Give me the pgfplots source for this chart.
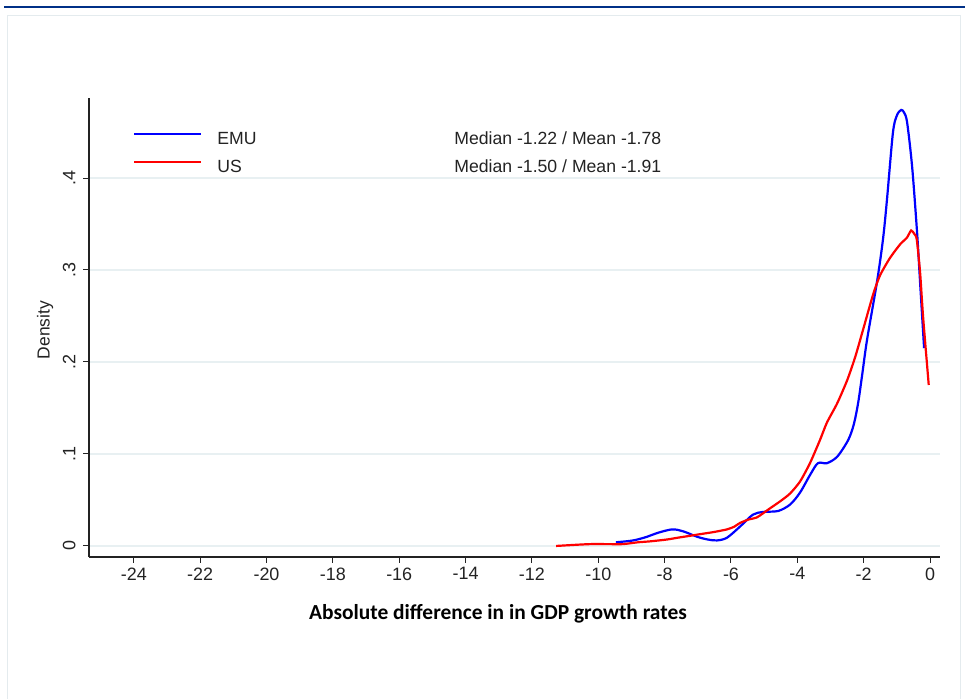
\documentclass[border=0pt]{standalone}
\usepackage{fontspec}
\setmainfont{Liberation Sans}
\newfontfamily\carlito{Carlito}
\usepackage{pgfplots}
\pgfplotsset{compat=1.18}
\definecolor{emu}{RGB}{0,0,255}
\definecolor{us}{RGB}{255,0,0}
\definecolor{gridc}{RGB}{232,240,242}
\definecolor{framec}{RGB}{228,235,238}
\definecolor{topblue}{RGB}{0,48,135}
\definecolor{axc}{RGB}{35,35,35}

\begin{document}
\begin{tikzpicture}[x=1bp,y=1bp]
\path[use as bounding box, fill=white] (0,0) rectangle (965,699);
\draw[topblue, line width=2.5bp] (4,692) -- (965,692);
\draw[framec, line width=1bp] (7,-5) -- (7,683) -- (960,683) -- (960,-5);
\begin{axis}[
  at={(89bp,142bp)}, anchor=south west,
  scale only axis, width=851bp, height=459bp,
  xmin=-25.35, xmax=0.3, ymin=-0.012, ymax=0.487,
  axis x line*=bottom, axis y line*=left,
  axis line style={line width=1.3bp, color=axc},
  xtick={-24,-22,...,0},
  ytick={0,0.1,0.2,0.3,0.4},
  yticklabels={0,.1,.2,.3,.4},
  tick style={line width=1bp, color=axc},
  tick align=outside, major tick length=6bp,
  ymajorgrids, grid style={gridc, line width=1.2bp},
  /pgf/number format/assume math mode=true,
  ticklabel style={font=\fontsize{18}{21}\selectfont, text=axc},
  xticklabel shift=1bp,
  yticklabel style={xshift=-4bp, rotate=90, anchor=south},
  ylabel={Density},
  ylabel style={at={(axis description cs:-0.0517,0.4946)}, anchor=center, font=\fontsize{17.5}{20}\selectfont, text=axc},
  xlabel={Absolute difference in in GDP growth rates},
  xlabel style={at={(axis description cs:0.4806,-0.1242)}, anchor=center, font=\carlito\bfseries\fontsize{21.5}{24}\selectfont},
  legend style={at={(axis description cs:0.0517,0.926)}, anchor=north west, draw=none, fill=none,
    inner sep=0pt, row sep=12bp, column sep=15bp,
    nodes={inner sep=0pt, text height=12bp, text depth=4bp, font=\fontsize{17.7}{20}\selectfont, text=axc}},
  legend cell align=left,
  legend image code/.code={\draw[#1] (0bp,6bp) -- (67bp,6bp);},
]
\addplot[emu, line width=2.2bp, smooth, tension=0.5] coordinates {
(-9.47,0.004) (-8.95,0.006) (-8.53,0.010) (-8.23,0.014) (-7.78,0.018) (-7.45,0.016)
(-7.02,0.010) (-6.70,0.007) (-6.42,0.006) (-6.12,0.009) (-5.73,0.021) (-5.34,0.034)
(-5.03,0.037) (-4.58,0.038) (-4.22,0.045) (-3.92,0.058) (-3.62,0.077) (-3.38,0.090)
(-3.11,0.090) (-2.80,0.097) (-2.47,0.115) (-2.30,0.132) (-2.17,0.155) (-2.05,0.185) (-1.90,0.224)
(-1.60,0.287) (-1.42,0.333) (-1.30,0.376) (-1.12,0.449) (-1.00,0.468) (-0.87,0.474)
(-0.78,0.471) (-0.69,0.460) (-0.54,0.412) (-0.39,0.340) (-0.30,0.286) (-0.18,0.215)
};
\addlegendentry{\makebox[237bp][l]{EMU}Median -1.22 / Mean -1.78}
\addplot[us, line width=2.2bp, smooth, tension=0.4] coordinates {
(-11.27,0.000) (-10.8,0.001) (-10.25,0.002) (-9.7,0.002) (-9.26,0.002) (-8.8,0.004)
(-8.44,0.005) (-7.93,0.007) (-7.6,0.009) (-7.24,0.011) (-6.9,0.013) (-6.54,0.015)
(-6.12,0.018) (-5.9,0.021) (-5.73,0.025) (-5.45,0.029) (-5.22,0.031) (-4.82,0.041)
(-4.5,0.049) (-4.22,0.057) (-3.92,0.070) (-3.62,0.090) (-3.32,0.115) (-3.11,0.134)
(-2.80,0.155) (-2.50,0.180) (-2.26,0.205) (-2.02,0.235) (-1.72,0.273) (-1.51,0.294)
(-1.21,0.313) (-0.90,0.328) (-0.70,0.335) (-0.57,0.343) (-0.47,0.339) (-0.40,0.333)
(-0.30,0.297) (-0.21,0.249) (-0.04,0.175)
};
\addlegendentry{\makebox[237bp][l]{US}Median -1.50 / Mean -1.91}
\end{axis}
\end{tikzpicture}
\end{document}
